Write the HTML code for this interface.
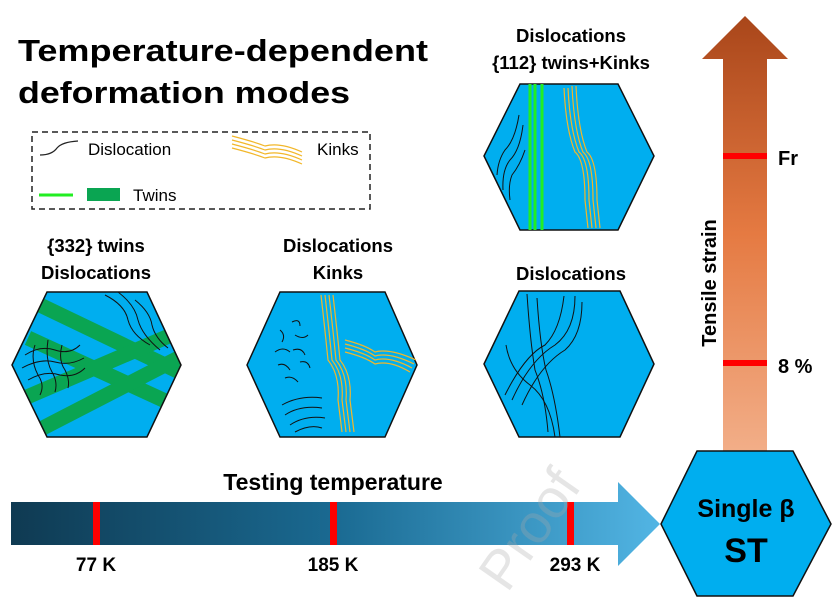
<!DOCTYPE html>
<html><head><meta charset="utf-8"><style>html,body{margin:0;padding:0;background:#fff;width:840px;height:607px;overflow:hidden}svg{display:block;overflow:hidden}</style></head>
<body>
<svg width="840" height="607" viewBox="0 0 840 607" xmlns="http://www.w3.org/2000/svg" font-family="Liberation Sans, sans-serif" font-weight="bold">
<defs>
<linearGradient id="gv" x1="0" y1="0" x2="0" y2="1"><stop offset="0" stop-color="#a9461a"/><stop offset="0.5" stop-color="#e57a42"/><stop offset="1" stop-color="#f2ae88"/></linearGradient>
<linearGradient id="gh" x1="0" y1="0" x2="1" y2="0"><stop offset="0" stop-color="#0f3a52"/><stop offset="0.5" stop-color="#1a6a92"/><stop offset="1" stop-color="#52b5e4"/></linearGradient>
<clipPath id="h1"><polygon points="12,365 47,292 147,292 181,365 147,437 47,437"/></clipPath>
</defs>
<text x="18" y="61" font-size="31" textLength="410" lengthAdjust="spacingAndGlyphs">Temperature-dependent</text>
<text x="18" y="103" font-size="31" textLength="332" lengthAdjust="spacingAndGlyphs">deformation modes</text>
<rect x="32" y="132" width="338" height="77" fill="none" stroke="#222" stroke-width="1.5" stroke-dasharray="6,4"/>
<path d="M40 155 Q52 155 57 148 Q62 142 78 141" fill="none" stroke="#222" stroke-width="1.2"/>
<text x="88" y="155" font-size="17" font-weight="normal">Dislocation</text>
<g fill="none" stroke="#f2b72a" stroke-width="1.2"><path d="M232 136 Q255 142 265 146 Q280 142 302 152"/><path d="M232 140 Q255 146 265 150 Q280 146 302 156"/><path d="M232 144 Q255 150 265 154 Q280 150 302 160"/><path d="M232 148 Q255 154 265 158 Q280 154 302 164"/></g>
<text x="317" y="155" font-size="17" font-weight="normal">Kinks</text>
<line x1="39" y1="195" x2="73" y2="195" stroke="#22ee22" stroke-width="3"/>
<rect x="87" y="188" width="33" height="13" fill="#0aa552"/>
<text x="133" y="201" font-size="17" font-weight="normal">Twins</text>
<g font-size="18.5" text-anchor="middle">
<text x="96" y="252">{332} twins</text><text x="96" y="279">Dislocations</text>
<text x="338" y="252">Dislocations</text><text x="338" y="279">Kinks</text>
<text x="571" y="280">Dislocations</text>
<text x="571" y="42">Dislocations</text><text x="571" y="69">{112} twins+Kinks</text>
</g>
<polygon points="12,365 47,292 147,292 181,365 147,437 47,437" fill="#00aeef"/>
<g clip-path="url(#h1)">
<g stroke="#0aa552" stroke-width="15" fill="none">
<path d="M40 305 L190 377"/><path d="M28 338 L185 410"/><path d="M20 400 L190 327"/><path d="M35 432 L190 352"/></g>
</g>
<polygon points="12,365 47,292 147,292 181,365 147,437 47,437" fill="none" stroke="#111" stroke-width="1.5"/>
<g stroke="#111" stroke-width="1" fill="none">
<path d="M25 355 Q40 345 55 350 Q70 355 80 345"/><path d="M22 368 Q40 358 55 362 Q70 366 84 358"/><path d="M28 380 Q45 370 60 375 Q75 378 85 368"/><path d="M35 345 Q30 360 38 375 Q45 385 40 395"/><path d="M48 340 Q45 360 52 372 Q58 382 55 392"/><path d="M62 345 Q58 360 65 370 Q70 380 68 388"/>
<path d="M105 295 Q125 305 128 320 Q132 335 150 345"/><path d="M118 292 Q135 305 138 320 Q142 335 160 350"/><path d="M135 300 Q150 312 152 325 Q155 338 168 348"/></g>
<polygon points="247,365 280,292 385,292 417,365 385,437 280,437" fill="#00aeef" stroke="#111" stroke-width="1.5"/>
<g fill="none" stroke="#f2b72a" stroke-width="1.2">
<path d="M321 295 Q325 330 328 360 Q340 375 338 400 L342 432"/><path d="M325 295 Q329 330 332 360 Q344 375 342 400 L346 432"/><path d="M329 295 Q333 330 336 360 Q348 375 346 400 L350 432"/><path d="M333 295 Q337 330 340 360 Q352 375 350 400 L354 432"/>
<path d="M345 340 Q365 345 375 352 Q390 348 416 360"/><path d="M345 344 Q365 349 375 356 Q390 352 414 364"/><path d="M345 348 Q365 353 375 360 Q390 356 412 368"/><path d="M345 352 Q365 357 375 364 Q390 360 410 372"/></g>
<g stroke="#111" stroke-width="1" fill="none">
<path d="M280 330 Q286 335 282 342"/><path d="M292 322 Q300 318 300 326"/><path d="M275 352 Q283 346 290 352"/><path d="M295 335 Q303 340 308 335"/><path d="M293 350 Q302 347 305 355"/><path d="M278 365 Q285 362 290 370"/><path d="M300 362 Q308 360 310 368"/><path d="M285 378 Q292 375 298 382"/>
<path d="M282 405 Q300 395 322 398"/><path d="M285 415 Q300 405 322 408"/><path d="M290 425 Q305 415 325 418"/><path d="M295 432 Q310 424 322 428"/></g>
<polygon points="484,364 519,291 620,291 654,364 620,437 519,437" fill="#00aeef" stroke="#111" stroke-width="1.5"/>
<g stroke="#111" stroke-width="1" fill="none">
<path d="M527 294 Q530 340 535 370 Q545 395 548 432"/><path d="M537 298 Q540 345 546 370 Q555 395 560 437"/><path d="M564 296 Q560 330 545 345 Q525 355 505 395"/><path d="M575 296 Q575 330 555 345 Q530 360 512 400"/><path d="M582 302 Q582 335 565 350 Q540 365 522 405"/><path d="M506 345 Q510 370 530 385 Q550 400 555 437"/></g>
<polygon points="484,156 520,84 618,84 654,156 618,230 520,230" fill="#00aeef" stroke="#111" stroke-width="1.5"/>
<g stroke="#22ee22" stroke-width="3"><line x1="530" y1="84" x2="530" y2="230"/><line x1="535" y1="84" x2="535" y2="230"/><line x1="542" y1="84" x2="542" y2="230"/></g>
<g fill="none" stroke="#f2b72a" stroke-width="1.2">
<path d="M564 88 Q566 130 575 152 Q585 160 585 200 L588 228"/><path d="M568 88 Q570 130 579 152 Q589 160 589 200 L592 228"/><path d="M572 86 Q574 130 583 152 Q593 160 593 200 L596 228"/><path d="M576 86 Q578 130 587 152 Q597 160 597 200 L600 228"/></g>
<g stroke="#111" stroke-width="1" fill="none"><path d="M519 115 Q515 140 505 150 Q498 160 497 175"/><path d="M523 125 Q520 150 510 160 Q502 170 503 190"/><path d="M525 150 Q520 165 512 175 Q508 185 510 200"/></g>
<polygon points="723,451 723,59 702,59 745,16 788,59 767,59 767,451" fill="url(#gv)"/>
<rect x="723" y="153" width="44" height="6" fill="#ff0000"/>
<rect x="723" y="360" width="44" height="6" fill="#ff0000"/>
<text x="778" y="165" font-size="20">Fr</text>
<text x="778" y="373" font-size="20">8 %</text>
<text transform="translate(716,283) rotate(-90)" text-anchor="middle" font-size="20">Tensile strain</text>
<polygon points="11,502 618,502 618,482 660,524 618,566 618,545 11,545" fill="url(#gh)"/>
<rect x="93" y="502" width="7" height="43" fill="#ff0000"/>
<rect x="330" y="502" width="7" height="43" fill="#ff0000"/>
<rect x="567" y="502" width="7" height="43" fill="#ff0000"/>
<text x="333" y="490" font-size="23" text-anchor="middle">Testing temperature</text>
<g font-size="19" text-anchor="middle"><text x="96" y="571">77 K</text><text x="333" y="571">185 K</text><text x="575" y="571">293 K</text></g>
<polygon points="661,524 697,451 793,451 831,524 793,596 697,596" fill="#00aeef" stroke="#111" stroke-width="1.5"/>
<text x="746" y="517" font-size="25" text-anchor="middle">Single β</text>
<text x="746" y="562" font-size="34" text-anchor="middle">ST</text>
<text transform="translate(545,540) rotate(-55)" font-size="55" font-weight="normal" fill="#aaa" fill-opacity="0.3" text-anchor="middle">Proof</text>
</svg>
</body></html>
